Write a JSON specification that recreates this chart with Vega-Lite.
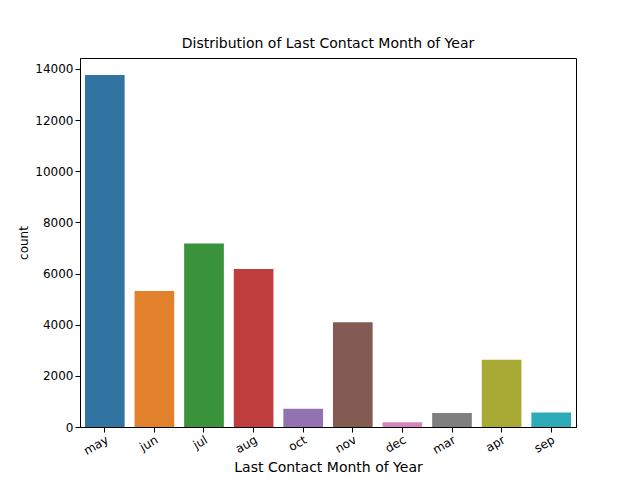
{
"$schema":"https://vega.github.io/schema/vega-lite/v6.json",
"width":496,"height":369,
"autosize":{"type":"none"},
"padding":{"left":80,"top":58,"right":64,"bottom":53},
"title":{"text":"Distribution of Last Contact Month of Year","font":"DejaVu Sans","fontSize":14,"fontWeight":"normal","offset":7},
"config":{"view":{"stroke":"black","strokeWidth":1},"axis":{"labelFont":"DejaVu Sans","titleFont":"DejaVu Sans","labelFontSize":12,"titleFontWeight":"normal","labelColor":"black","titleColor":"black","tickColor":"black","domainColor":"black","grid":false}},
"data":{"values":[
{"month":"may","count":13769},{"month":"jun","count":5318},{"month":"jul","count":7174},{"month":"aug","count":6178},{"month":"oct","count":718},{"month":"nov","count":4101},{"month":"dec","count":182},{"month":"mar","count":546},{"month":"apr","count":2632},{"month":"sep","count":570}]},
"mark":{"type":"bar"},
"encoding":{
"x":{"field":"month","type":"nominal","sort":null,"scale":{"paddingInner":0.2,"paddingOuter":0.1},"axis":{"title":"Last Contact Month of Year","titleFontSize":14,"labelAngle":-30,"labelAlign":"right","labelBaseline":"top","titlePadding":4}},
"y":{"field":"count","type":"quantitative","scale":{"domain":[0,14430],"nice":false},"axis":{"title":"count","titleFontSize":12,"values":[0,2000,4000,6000,8000,10000,12000,14000],"format":"d"}},
"color":{"field":"month","type":"nominal","sort":null,"legend":null,"scale":{"range":["#3274a1","#e1812c","#3a923a","#c03d3e","#9372b2","#845b53","#d684bd","#7f7f7f","#a9aa35","#2eabb8"]}}
}}
